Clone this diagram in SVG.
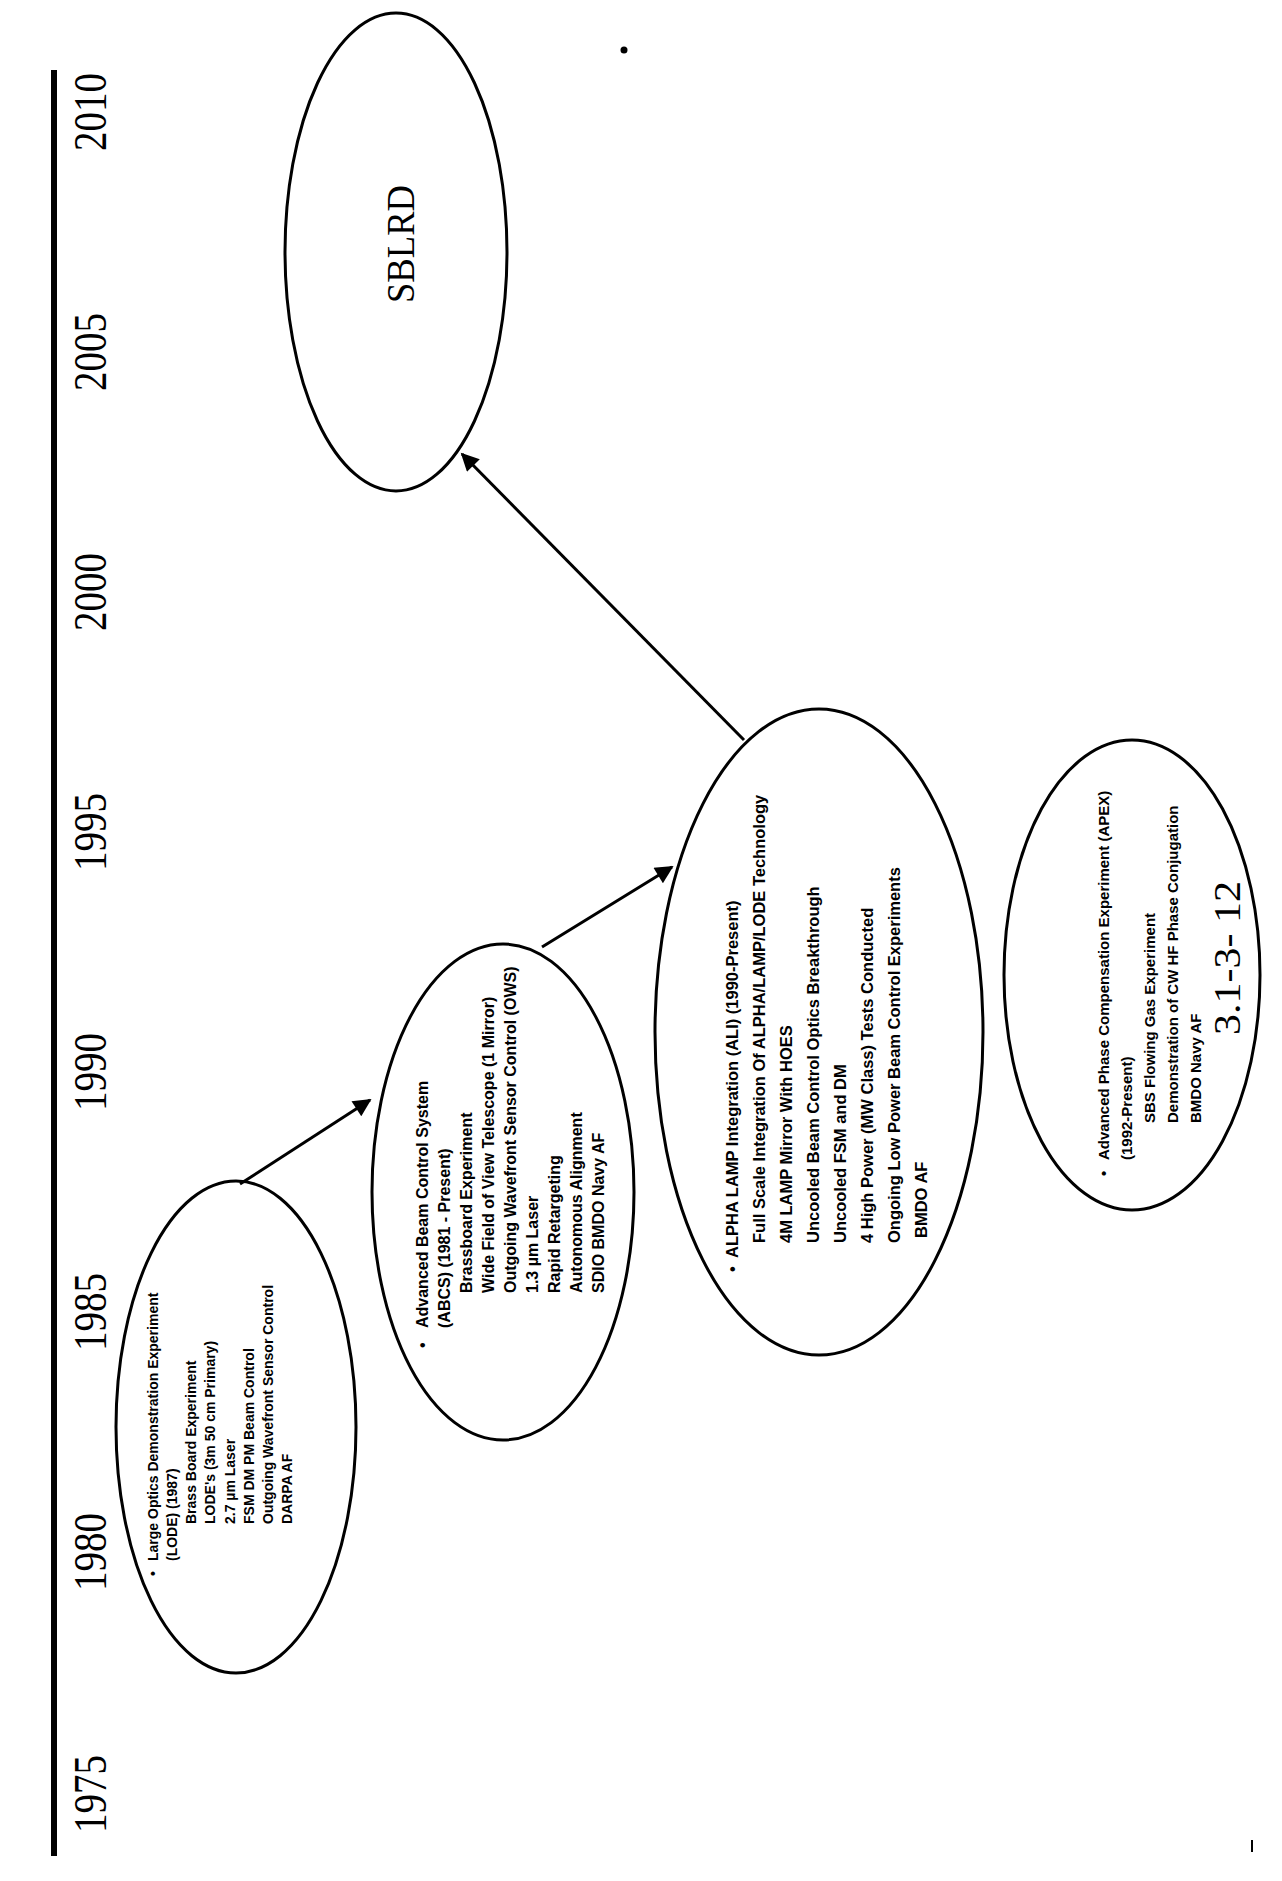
<svg xmlns="http://www.w3.org/2000/svg" width="1282" height="1881" viewBox="0 0 1282 1881">
<style>
.ell{fill:none;stroke:#000;stroke-width:3}
.yr{font-family:"Liberation Serif","Times New Roman",serif;font-size:46px;fill:#000}
.big{font-family:"Liberation Serif","Times New Roman",serif;fill:#000}
.t1{font-family:"Liberation Sans",Arial,sans-serif;font-weight:bold;font-size:14px;fill:#000}
.t2{font-family:"Liberation Sans",Arial,sans-serif;font-weight:bold;font-size:16px;fill:#000}
.t3{font-family:"Liberation Sans",Arial,sans-serif;font-weight:bold;font-size:16.5px;fill:#000}
.t4{font-family:"Liberation Sans",Arial,sans-serif;font-weight:bold;font-size:15px;fill:#000}
.conn{stroke:#000;stroke-width:3;fill:none}
</style>
<defs>
<marker id="ah" viewBox="0 0 10 10" refX="9" refY="5" markerWidth="8" markerHeight="6" markerUnits="strokeWidth" orient="auto">
<path d="M0,0 L10,5 L0,10 z" fill="#000"/>
</marker>
</defs>
<rect width="1282" height="1881" fill="#fff"/>
<g id="timeline">
<rect x="51" y="70" width="6" height="1786" fill="#000"/>
<text class="yr" transform="translate(106,112) rotate(-90)" text-anchor="middle" textLength="78" lengthAdjust="spacingAndGlyphs">2010</text>
<text class="yr" transform="translate(106,352) rotate(-90)" text-anchor="middle" textLength="78" lengthAdjust="spacingAndGlyphs">2005</text>
<text class="yr" transform="translate(106,592) rotate(-90)" text-anchor="middle" textLength="78" lengthAdjust="spacingAndGlyphs">2000</text>
<text class="yr" transform="translate(106,832) rotate(-90)" text-anchor="middle" textLength="78" lengthAdjust="spacingAndGlyphs">1995</text>
<text class="yr" transform="translate(106,1072) rotate(-90)" text-anchor="middle" textLength="78" lengthAdjust="spacingAndGlyphs">1990</text>
<text class="yr" transform="translate(106,1312) rotate(-90)" text-anchor="middle" textLength="78" lengthAdjust="spacingAndGlyphs">1985</text>
<text class="yr" transform="translate(106,1552) rotate(-90)" text-anchor="middle" textLength="78" lengthAdjust="spacingAndGlyphs">1980</text>
<text class="yr" transform="translate(106,1794) rotate(-90)" text-anchor="middle" textLength="78" lengthAdjust="spacingAndGlyphs">1975</text>
</g>
<g id="sblrd">
<ellipse class="ell" cx="396" cy="252" rx="111" ry="239"/>
<text class="big" font-size="40" transform="translate(414,244) rotate(-90)" text-anchor="middle" textLength="118" lengthAdjust="spacingAndGlyphs">SBLRD</text>
</g>
<g id="lode">
<ellipse class="ell" cx="236" cy="1427" rx="120" ry="246"/>
<g class="t1">
<text transform="translate(158,1576) rotate(-90)">•</text>
<text transform="translate(158,1561) rotate(-90)">Large Optics Demonstration Experiment</text>
<text transform="translate(177,1561) rotate(-90)">(LODE) (1987)</text>
<text transform="translate(196,1524) rotate(-90)">Brass Board Experiment</text>
<text transform="translate(215,1524) rotate(-90)">LODE's (3m 50 cm Primary)</text>
<text transform="translate(235,1524) rotate(-90)">2.7 µm Laser</text>
<text transform="translate(254,1524) rotate(-90)">FSM DM PM Beam Control</text>
<text transform="translate(273,1524) rotate(-90)">Outgoing Wavefront Sensor Control</text>
<text transform="translate(292,1524) rotate(-90)">DARPA AF</text>
</g>
</g>
<g id="abcs">
<ellipse class="ell" cx="503" cy="1192" rx="131" ry="248"/>
<g class="t2">
<text transform="translate(428,1348) rotate(-90)">•</text>
<text transform="translate(428,1328) rotate(-90)">Advanced Beam Control System</text>
<text transform="translate(450,1328) rotate(-90)">(ABCS) (1981 - Present)</text>
<text transform="translate(472,1293) rotate(-90)">Brassboard Experiment</text>
<text transform="translate(494,1293) rotate(-90)">Wide Field of View Telescope (1 Mirror)</text>
<text transform="translate(516,1293) rotate(-90)">Outgoing Wavefront Sensor Control (OWS)</text>
<text transform="translate(538,1293) rotate(-90)">1.3 µm Laser</text>
<text transform="translate(560,1293) rotate(-90)">Rapid Retargeting</text>
<text transform="translate(582,1293) rotate(-90)">Autonomous Alignment</text>
<text transform="translate(604,1293) rotate(-90)">SDIO BMDO Navy AF</text>
</g>
</g>
<g id="ali">
<ellipse class="ell" cx="819" cy="1032" rx="164" ry="323"/>
<g class="t3">
<text transform="translate(738,1272) rotate(-90)">•</text>
<text transform="translate(738,1258) rotate(-90)">ALPHA LAMP Integration (ALI) (1990-Present)</text>
<text transform="translate(765,1243) rotate(-90)">Full Scale Integration Of ALPHA/LAMP/LODE Technology</text>
<text transform="translate(792,1243) rotate(-90)">4M LAMP Mirror With HOES</text>
<text transform="translate(819,1243) rotate(-90)">Uncooled Beam Control Optics Breakthrough</text>
<text transform="translate(846,1243) rotate(-90)">Uncooled FSM and DM</text>
<text transform="translate(873,1243) rotate(-90)">4 High Power (MW Class) Tests Conducted</text>
<text transform="translate(900,1243) rotate(-90)">Ongoing Low Power Beam Control Experiments</text>
<text transform="translate(927,1238) rotate(-90)">BMDO AF</text>
</g>
</g>
<g id="apex">
<ellipse class="ell" cx="1132" cy="975" rx="128" ry="235"/>
<g class="t4">
<text transform="translate(1109,1176) rotate(-90)">•</text>
<text transform="translate(1109,1160) rotate(-90)">Advanced Phase Compensation Experiment (APEX)</text>
<text transform="translate(1132,1160) rotate(-90)">(1992-Present)</text>
<text transform="translate(1155,1123) rotate(-90)">SBS Flowing Gas Experiment</text>
<text transform="translate(1178,1123) rotate(-90)">Demonstration of CW HF Phase Conjugation</text>
<text transform="translate(1201,1123) rotate(-90)">BMDO Navy AF</text>
</g>
</g>
<g id="page-label">
<text class="big" font-size="38" transform="translate(1240,1035) rotate(-90)" textLength="154" lengthAdjust="spacingAndGlyphs">3.1-3- 12</text>
</g>
<g id="connectors">
<line class="conn" x1="240" y1="1184" x2="370" y2="1100" marker-end="url(#ah)"/>
<line class="conn" x1="542" y1="947" x2="672" y2="867" marker-end="url(#ah)"/>
<line class="conn" x1="744" y1="740" x2="462" y2="454" marker-end="url(#ah)"/>
</g>
<g id="marks">
<circle cx="624" cy="50" r="3.5" fill="#000"/>
<rect x="1251" y="1840" width="2" height="12" fill="#000"/>
</g>
</svg>
